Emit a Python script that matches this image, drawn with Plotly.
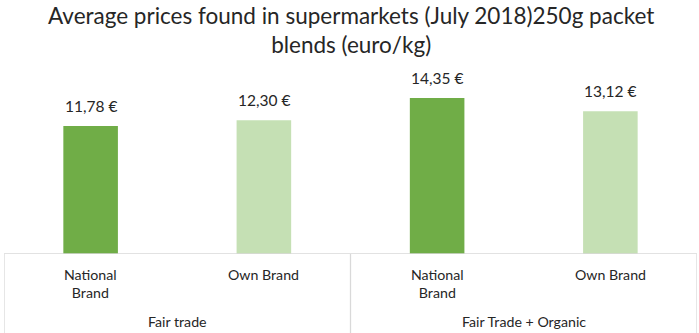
import plotly.graph_objects as go

# Price data (euro/kg)
groups = ["Fair trade", "Fair trade", "Fair Trade + Organic", "Fair Trade + Organic"]
brands = ["National<br>Brand", "Own Brand", "National<br>Brand", "Own Brand"]
prices = [11.78, 12.30, 14.35, 13.12]
price_labels = ["11,78 €", "12,30 €", "14,35 €", "13,12 €"]
group_names = ["Fair trade", "Fair Trade + Organic"]
bar_colors = ["#70ad47", "#c5e0b4", "#70ad47", "#c5e0b4"]
title_text = "Average prices found in supermarkets (July 2018)250g packet<br>blends (euro/kg)"

FONT = "Lato, 'Open Sans', sans-serif"
LINE = "#d9d9d9"

x_pos = list(range(len(prices)))

fig = go.Figure(go.Bar(
    x=x_pos, y=prices, width=0.315,
    marker=dict(color=bar_colors, line=dict(width=0)),
    hoverinfo="skip",
))

# value labels above bars
for xi, v, lab in zip(x_pos, prices, price_labels):
    fig.add_annotation(x=xi, y=v, text=lab, showarrow=False, yanchor="bottom",
                       yshift=9, font=dict(family=FONT, size=15.5, color="#262626"))

# brand labels under the axis
for xi, b in zip(x_pos, brands):
    fig.add_annotation(x=xi, y=0, yref="y", text=b, showarrow=False, yanchor="top",
                       yshift=-10, font=dict(family=FONT, size=14.2, color="#262626"))

# group labels
for gi, g in enumerate(group_names):
    fig.add_annotation(x=gi * 2 + 0.5, y=0, yref="y", text=g, showarrow=False,
                       yanchor="top", yshift=-57,
                       font=dict(family=FONT, size=14.2, color="#262626"))

# two-line chart title
fig.add_annotation(x=0.5, xref="paper", y=1, yref="paper", yanchor="top", yshift=80,
                   text=title_text, showarrow=False,
                   font=dict(family=FONT, size=22.5, color="#262626"))

# category axis line and group dividers
fig.add_shape(type="line", xref="x", yref="y", x0=-0.5, x1=3.5, y0=0, y1=0,
              line=dict(color=LINE, width=1.3))
for xd in [-0.5, 1.5, 3.5]:
    fig.add_shape(type="line", xref="x", yref="paper", x0=xd, x1=xd, y0=0, y1=-0.5,
                  line=dict(color=LINE, width=1.3))

fig.update_layout(
    width=699, height=333,
    margin=dict(l=4, r=2, t=80, b=79),
    paper_bgcolor="white", plot_bgcolor="white",
    showlegend=False,
    xaxis=dict(range=[-0.5, 3.5], showticklabels=False, showgrid=False, zeroline=False,
               showline=False, ticks=""),
    yaxis=dict(range=[0, 16], visible=False, showgrid=False, zeroline=False),
)

fig.write_html("out.html")
